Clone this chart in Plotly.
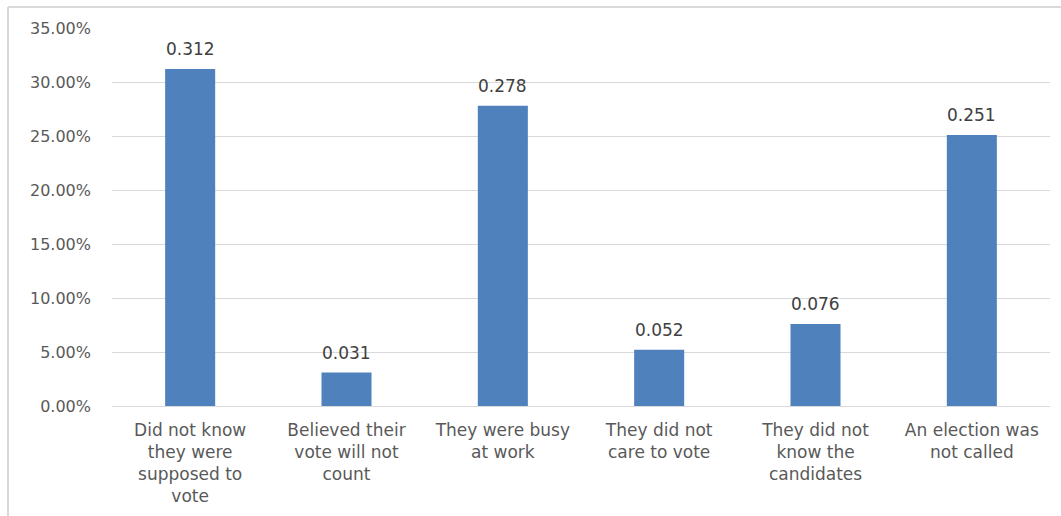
import plotly.graph_objects as go

categories = [
    "Did not know<br>they were<br>supposed to<br>vote",
    "Believed their<br>vote will not<br>count",
    "They were busy<br>at work",
    "They did not<br>care to vote",
    "They did not<br>know the<br>candidates",
    "An election was<br>not called",
]
values = [0.312, 0.031, 0.278, 0.052, 0.076, 0.251]
tick_vals = [0, 0.05, 0.10, 0.15, 0.20, 0.25, 0.30, 0.35]

W, H = 1061, 516
L, R, T, B = 112, 11, 28, 110
pw, ph = W - L - R, H - T - B

fig = go.Figure(go.Bar(
    x=categories, y=values,
    marker=dict(color="#4F81BD", line=dict(width=0)),
    width=0.32,
))

for c, v in zip(categories, values):
    fig.add_annotation(x=c, y=v, text=f"{v:.3f}", showarrow=False,
                       yanchor="bottom", yshift=8,
                       font=dict(family="DejaVu Sans", size=17, color="#404040"))

# outer chart border (left + top)
bx = (8 - L) / pw
by_top = 1 + (T - 7) / ph
by_bot = -(B) / ph
fig.add_shape(type="line", xref="paper", yref="paper", x0=bx, x1=bx, y0=by_bot, y1=by_top,
              line=dict(color="#d9d9d9", width=2))
fig.add_shape(type="line", xref="paper", yref="paper", x0=bx, x1=(W - L) / pw, y0=by_top, y1=by_top,
              line=dict(color="#d9d9d9", width=2))

fig.update_layout(
    width=W, height=H,
    margin=dict(l=L, r=R, t=T, b=B),
    paper_bgcolor="white", plot_bgcolor="white",
    showlegend=False,
    font=dict(family="DejaVu Sans", size=15, color="#595959"),
    xaxis=dict(showgrid=False, showline=False, ticks="", tickangle=0,
               ticklabelstandoff=12,
               tickfont=dict(size=17, color="#595959")),
    yaxis=dict(range=[0, 0.35], tickvals=tick_vals, tickformat=".2%",
               showgrid=True, gridcolor="#d9d9d9", gridwidth=1,
               zeroline=True, zerolinecolor="#d9d9d9", zerolinewidth=1,
               showline=False, ticks="", ticklabelstandoff=20,
               tickfont=dict(size=16, color="#595959")),
)

fig.write_html("out.html")
